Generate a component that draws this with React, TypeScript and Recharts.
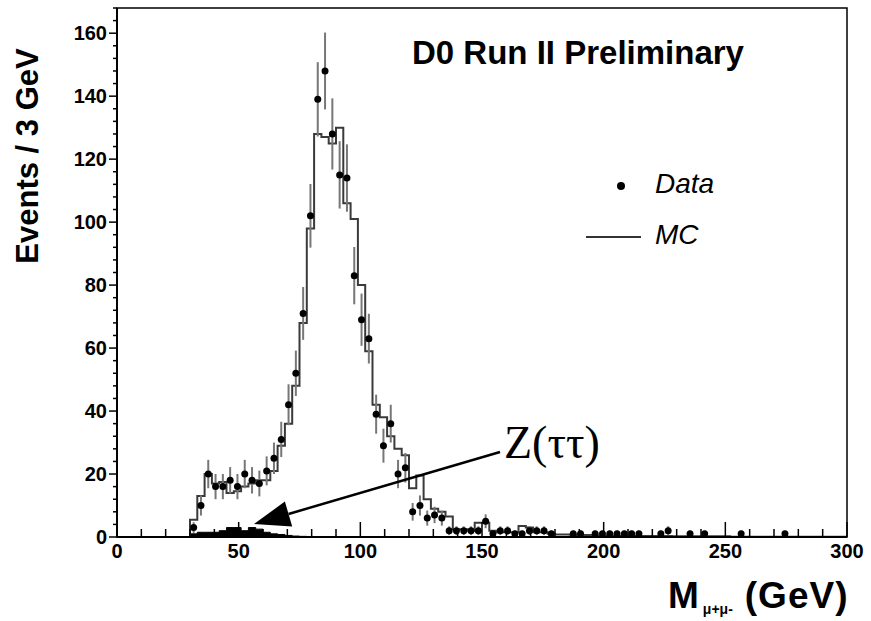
import {
  Area,
  ComposedChart,
  ErrorBar,
  Line,
  ReferenceArea,
  ReferenceLine,
  Scatter,
  XAxis,
  YAxis,
} from "recharts";

// data points (bin centres, 3 GeV bins)
const dataMass = [
  31.5, 34.5, 37.5, 40.5, 43.5, 46.5, 49.5, 52.5, 55.5, 58.5, 61.5, 64.5, 67.5,
  70.5, 73.5, 76.5, 79.5, 82.5, 85.5, 88.5, 91.5, 94.5, 97.5, 100.5, 103.5,
  106.5, 109.5, 112.5, 115.5, 118.5, 121.5, 124.5, 127.5, 130.5, 133.5, 136.5,
  139.5, 142.5, 145.5, 148.5, 151.5, 154.5, 157.5, 160.5, 163.5, 166.5, 169.5,
  172.5, 175.5, 178.5, 187.5, 190.5, 196.5, 199.5, 202.5, 205.5, 208.5, 211.5,
  214.5, 223.5, 226.5, 235.5, 241.5, 256.5, 274.5,
];
const dataEvents = [
  3, 10, 20, 16, 16, 18, 16, 20, 18, 17, 21, 25, 31, 42, 52, 71, 102, 139, 148,
  128, 115, 114, 83, 69, 63, 39, 29, 36, 20, 22, 8, 10, 6, 7, 6, 2, 2, 2, 2, 2,
  5, 1, 2, 2, 1, 1, 2, 2, 2, 1, 1, 1, 1, 1, 1, 1, 1, 1, 1, 1, 2, 1, 1, 1, 1,
];
const dataErrors = [
  1.7, 3.2, 4.5, 4, 4, 4.2, 4, 4.5, 4.2, 4.1, 4.6, 5, 5.6, 6.5, 7.2, 8.4, 10.1,
  11.8, 12.2, 11.3, 10.7, 10.7, 9.1, 8.3, 7.9, 6.2, 5.4, 6, 4.5, 4.7, 2.8, 3.2,
  2.4, 2.6, 2.4, 1.4, 1.4, 1.4, 1.4, 1.4, 2.2, 1, 1.4, 1.4, 1, 1, 1.4, 1.4, 1.4,
  1, 1, 1, 1, 1, 1, 1, 1, 1, 1, 1, 1.4, 1, 1, 1, 1,
];

// MC histogram, bins starting at 27 GeV
const mcStart = 27;
const mcCounts = [
  0, 5.5, 13, 20, 17, 17.5, 14, 14.5, 16, 17, 18, 18, 21, 29, 36, 48, 68, 98,
  128, 127, 125, 130, 106, 101, 80, 59, 42, 38, 32, 28, 26, 15.5, 19.5, 12, 9,
  8, 6.5, 2.5, 2.5, 2, 4.5, 4.5, 2, 1.5, 1.5, 1.5, 3.5, 3, 1.5, 1.5, 1, 0.8,
  0.8, 0.7, 0.6, 0.6, 0.5, 0.5, 0.5, 0.4, 0.4, 0.4, 0.3, 0.3, 0.3, 0.3, 0.3,
  0.2, 0.2, 0.2, 0.2, 0.2, 0.2, 0.2, 0.2, 0.1, 0.1, 0.1, 0.1, 0.1, 0.1, 0.1,
  0.1, 0.1, 0.1, 0.1, 0.1, 0.1, 0.1, 0.1, 0.1,
];

// Z -> tau tau contribution
const ztauStart = 27;
const ztauCounts = [
  0, 1, 1.5, 1.5, 1.5, 2, 3, 3, 2, 3, 2.5, 1.5, 1, 0.8, 0.5, 0.3, 0.2, 0,
];

const xMajor = [0, 50, 100, 150, 200, 250, 300];
const yMajor = [0, 20, 40, 60, 80, 100, 120, 140, 160];
const xTicks = Array.from({ length: 31 }, (_, i) => i * 10);
const yTicks = Array.from({ length: 43 }, (_, i) => i * 4);

const points = dataMass.map((x, i) => ({
  x,
  y: dataEvents[i],
  err: dataErrors[i],
}));

const toSteps = (start: number, counts: number[]) => {
  const rows = counts.map((y, i) => ({ x: start + 3 * i, y }));
  rows.push({ x: start + 3 * counts.length, y: counts[counts.length - 1] });
  return rows;
};
const mcRows = toSteps(mcStart, mcCounts);
const ztauRows = toSteps(ztauStart, ztauCounts);

const sans = "'Liberation Sans', Arial, sans-serif";

const XTick = (p: any) => {
  const v = p.payload.value;
  const major = xMajor.includes(v);
  return (
    <g>
      <line x1={p.x} x2={p.x} y1={p.y} y2={p.y - (major ? 15 : 8)} stroke="#000" strokeWidth={1.5} />
      {major && (
        <text x={p.x} y={p.y + 21} textAnchor="middle" fontSize={20} fontWeight="bold" fontFamily={sans} fill="#000">
          {v}
        </text>
      )}
    </g>
  );
};

const YTick = (p: any) => {
  const v = p.payload.value;
  const major = yMajor.includes(v);
  return (
    <g>
      <line x1={p.x - (major ? 8 : 4)} x2={p.x} y1={p.y} y2={p.y} stroke="#000" strokeWidth={1.5} />
      {major && (
        <text x={p.x - 10} y={p.y + 7} textAnchor="end" fontSize={20} fontWeight="bold" fontFamily={sans} fill="#000">
          {v}
        </text>
      )}
    </g>
  );
};

const Arrow = (p: any) => {
  const { x1, y1, x2, y2 } = p;
  const dx = x2 - x1;
  const dy = y2 - y1;
  const len = Math.hypot(dx, dy);
  const ux = dx / len;
  const uy = dy / len;
  const head = 36;
  const half = 13;
  const bx = x2 - ux * head;
  const by = y2 - uy * head;
  return (
    <g>
      <line x1={x1} y1={y1} x2={bx} y2={by} stroke="#000" strokeWidth={2.5} />
      <polygon
        points={`${x2},${y2} ${bx - uy * half},${by + ux * half} ${bx + uy * half},${by - ux * half}`}
        fill="#000"
      />
    </g>
  );
};

export default function App() {
  return (
    <div style={{ position: "absolute", left: 0, top: 0, width: 871, height: 621, background: "#fff" }}>
      <ComposedChart width={871} height={621} margin={{ top: 8, right: 24, bottom: 0, left: 0 }}>
        <XAxis
          dataKey="x"
          type="number"
          domain={[0, 300]}
          ticks={xTicks}
          interval={0}
          height={84}
          tickSize={0}
          tickMargin={0}
          tickLine={false}
          axisLine={{ stroke: "#000", strokeWidth: 2 }}
          tick={(p: any) => <XTick {...p} />}
          allowDataOverflow
        />
        <YAxis
          type="number"
          domain={[0, 168]}
          ticks={yTicks}
          interval={0}
          width={117}
          tickSize={0}
          tickMargin={0}
          tickLine={false}
          axisLine={{ stroke: "#000", strokeWidth: 2 }}
          tick={(p: any) => <YTick {...p} />}
          allowDataOverflow
        />
        <ReferenceArea x1={0} x2={300} y1={0} y2={168} fill="none" stroke="#000" strokeWidth={1.5} ifOverflow="visible" />
        <Area
          data={ztauRows}
          dataKey="y"
          type="stepAfter"
          stroke="#000"
          strokeWidth={1}
          fill="#000"
          fillOpacity={1}
          baseValue={0}
          isAnimationActive={false}
        />
        <Line
          data={mcRows}
          dataKey="y"
          type="stepAfter"
          stroke="#3a3a3a"
          strokeWidth={2}
          dot={false}
          isAnimationActive={false}
        />
        <Scatter
          data={points}
          dataKey="y"
          fill="#000"
          isAnimationActive={false}
          shape={(p: any) => <circle cx={p.cx} cy={p.cy} r={3.5} fill="#000" />}
        >
          <ErrorBar dataKey="err" direction="y" width={0} stroke="#777" strokeWidth={2} />
        </Scatter>
        <ReferenceLine
          segment={[
            { x: 157.4, y: 27 },
            { x: 56.3, y: 4.1 },
          ]}
          ifOverflow="visible"
          shape={(p: any) => <Arrow {...p} />}
        />
      </ComposedChart>

      <div
        style={{
          position: "absolute",
          left: 27,
          top: 156,
          transform: "translate(-50%, -50%) rotate(-90deg)",
          whiteSpace: "nowrap",
          fontFamily: sans,
          fontWeight: "bold",
          fontSize: 31,
          lineHeight: 1,
        }}
      >
        Events / 3 GeV
      </div>
      <div
        style={{
          position: "absolute",
          left: 412,
          top: 36,
          whiteSpace: "nowrap",
          fontFamily: sans,
          fontWeight: "bold",
          fontSize: 33,
          lineHeight: 1,
        }}
      >
        D0 Run II Preliminary
      </div>
      <div style={{ position: "absolute", left: 617, top: 182, width: 8, height: 8, borderRadius: 4, background: "#000" }} />
      <div style={{ position: "absolute", left: 655, top: 170, fontFamily: sans, fontStyle: "italic", fontSize: 28, lineHeight: 1 }}>
        Data
      </div>
      <div style={{ position: "absolute", left: 586, top: 236, width: 55, height: 2, background: "#333" }} />
      <div style={{ position: "absolute", left: 655, top: 221, fontFamily: sans, fontStyle: "italic", fontSize: 28, lineHeight: 1 }}>
        MC
      </div>
      <div
        style={{
          position: "absolute",
          left: 504,
          top: 420,
          whiteSpace: "nowrap",
          fontFamily: "'Liberation Serif', 'DejaVu Serif', serif",
          fontSize: 46,
          lineHeight: 1,
        }}
      >
        Z(ττ)
      </div>
      <div
        style={{
          position: "absolute",
          left: 668,
          top: 577,
          whiteSpace: "nowrap",
          fontFamily: sans,
          fontWeight: "bold",
          fontSize: 37,
          lineHeight: 1,
        }}
      >
        M
        <span style={{ fontSize: 14, position: "relative", top: 6, margin: "0 12px 0 4px" }}>μ+μ-</span>
        <span style={{ letterSpacing: 1 }}>(GeV)</span>
      </div>
    </div>
  );
}
